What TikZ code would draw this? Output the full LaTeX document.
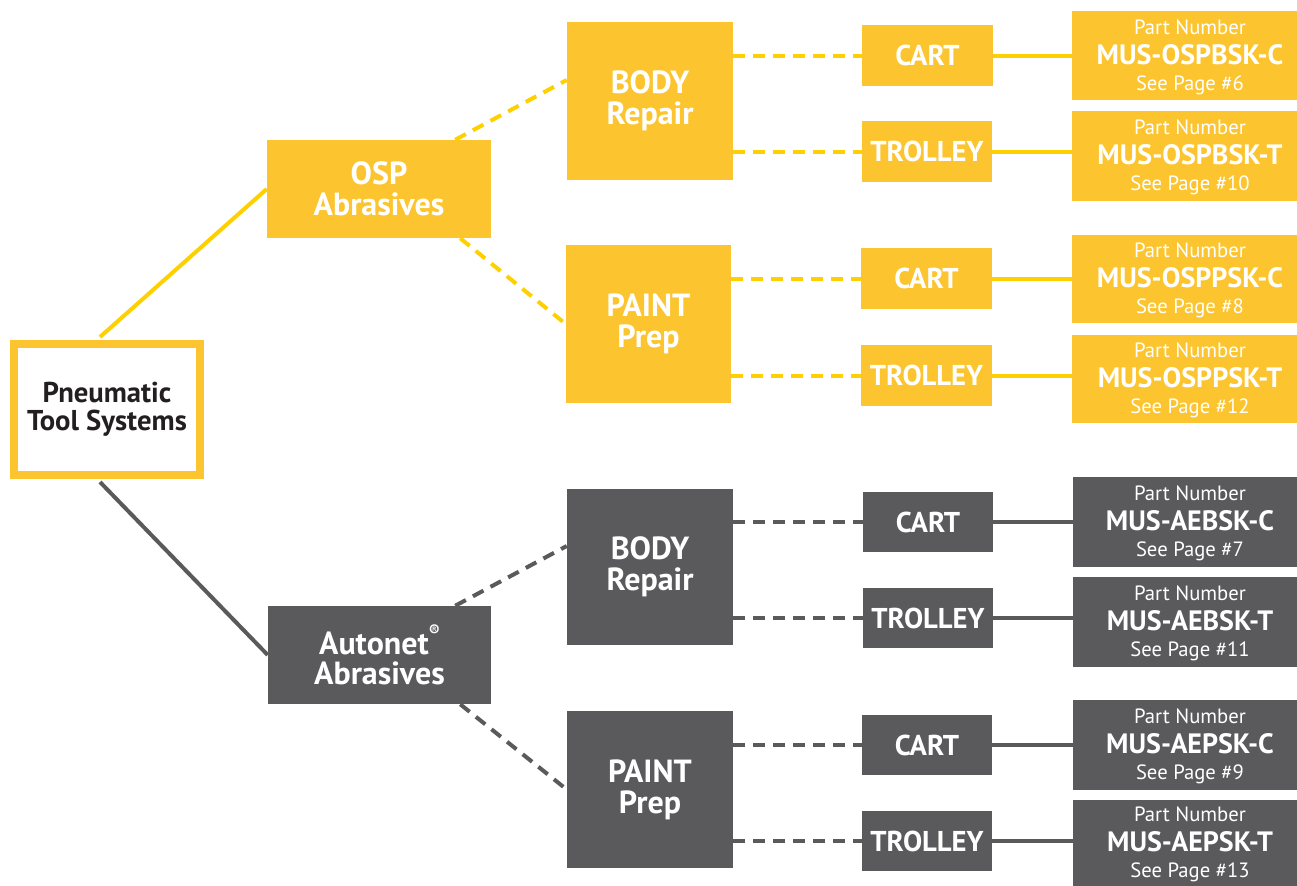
\documentclass[tikz,border=0pt]{standalone}
\usepackage{fontspec}
\setmainfont{PT Sans}
\usetikzlibrary{calc}
\definecolor{yfill}{HTML}{FCC52F}
\definecolor{yline}{HTML}{FFD000}
\definecolor{gfill}{HTML}{5A5A5C}
\definecolor{gline}{HTML}{5A5A5A}
\definecolor{dtext}{HTML}{231F20}
\tikzset{
  boxbase/.style={draw=none, inner sep=0pt, text=white, align=center},
  ybx/.style={boxbase, fill=yfill},
  gbx/.style={boxbase, fill=gfill},
  big/.style={font=\bfseries\fontsize{24}{23}\selectfont},
  mid/.style={font=\bfseries\fontsize{21.5}{22}\selectfont},
  pnsmall/.style={anchor=base, text=white, inner sep=0pt, font=\fontsize{15.5}{16}\selectfont},
  pncode/.style={anchor=base, text=white, inner sep=0pt, font=\bfseries\fontsize{21}{23}\selectfont},
  ysolid/.style={draw=yline, line width=3pt},
  gsolid/.style={draw=gline, line width=3pt},
  ydash/.style={draw=yline, line width=3pt, dash pattern=on 9pt off 6pt},
  gdash/.style={draw=gline, line width=3pt, dash pattern=on 9pt off 6pt},
}
\newcommand\bx[7]{\node[#6, minimum width={(#4-#2)*0.75pt}, minimum height={(#5-#3)*0.75pt}] (#1) at ({(#2+#4)/2},{(#3+#5)/2}) {#7};}
\newcommand\pbox[8]{% name x1 y1 x2 y2 style code page
  \bx{#1}{#2}{#3}{#4}{#5}{#6}{}
  \node[pnsmall] (#1a) at (1190,{(#3+#5)/2-21.5}) {Part Number};
  \node[pncode] (#1b) at (1190,{(#3+#5)/2+8.5}) {#7};
  \node[pnsmall] (#1c) at (1190,{(#3+#5)/2+34.5}) {See Page \##8};
}
\begin{document}
\begin{tikzpicture}[x=0.75pt,y=-0.75pt]
\useasboundingbox (0,0) rectangle (1297,886);
% root
\node[draw=yfill, line width=6pt, fill=white, minimum width={186*0.75pt}, minimum height={131*0.75pt}, inner sep=0pt, align=center, text=dtext, font=\bfseries\fontsize{21.5}{21}\selectfont] (root) at (107,409.5) {Pneumatic\\Tool Systems};
% level 1
\bx{osp}{267}{140}{491}{238}{ybx,big}{OSP\\Abrasives}
\bx{aut}{268}{606}{491}{704}{gbx,big}{Autonet{\raisebox{0.55em}{\fontsize{12}{12}\selectfont ®}}\\Abrasives}
% level 2
\bx{yb}{567}{22}{733}{180}{ybx,big}{BODY\\Repair}
\bx{yp}{566}{245}{731}{403}{ybx,big}{PAINT\\Prep}
\bx{gb}{567}{489}{733}{645}{gbx,big}{BODY\\Repair}
\bx{gp}{567}{711}{733}{868}{gbx,big}{PAINT\\Prep}
% level 3
\bx{yc1}{862}{25}{993}{86}{ybx,mid}{CART}
\bx{yt1}{862}{121}{992}{182}{ybx,mid}{TROLLEY}
\bx{yc2}{861}{248}{992}{309}{ybx,mid}{CART}
\bx{yt2}{861}{345}{992}{406}{ybx,mid}{TROLLEY}
\bx{gc1}{863}{492}{993}{552}{gbx,mid}{CART}
\bx{gt1}{863}{588}{993}{648}{gbx,mid}{TROLLEY}
\bx{gc2}{862}{715}{992}{775}{gbx,mid}{CART}
\bx{gt2}{862}{811}{992}{871}{gbx,mid}{TROLLEY}
% part boxes
\pbox{p1}{1072}{11}{1297}{100}{ybx}{MUS-OSPBSK-C}{6}
\pbox{p2}{1072}{111}{1297}{201}{ybx}{MUS-OSPBSK-T}{10}
\pbox{p3}{1072}{235}{1297}{323}{ybx}{MUS-OSPPSK-C}{8}
\pbox{p4}{1072}{335}{1297}{423}{ybx}{MUS-OSPPSK-T}{12}
\pbox{p5}{1073}{477}{1297}{567}{gbx}{MUS-AEBSK-C}{7}
\pbox{p6}{1073}{577}{1297}{667}{gbx}{MUS-AEBSK-T}{11}
\pbox{p7}{1073}{700}{1297}{790}{gbx}{MUS-AEPSK-C}{9}
\pbox{p8}{1073}{800}{1297}{886}{gbx}{MUS-AEPSK-T}{13}
% connectors level 0-1
\draw[ysolid] ($(root.north)+(-7,-3)$) -- (osp.west);
\draw[gsolid] ($(root.south)+(-7,3)$) -- (aut.west);
% level 1-2
\draw[ydash] ($(osp.north east)+(-36,0)$) -- ($(yb.west)+(0,-21)$);
\draw[ydash] ($(osp.south east)+(-31,0)$) -- (yp.west);
\draw[gdash] ($(aut.north east)+(-36,0)$) -- ($(gb.west)+(0,-21)$);
\draw[gdash] ($(aut.south east)+(-31,0)$) -- (gp.west);
% level 2-3
\foreach \a/\b/\s in {yb/yc1/ydash,yb/yt1/ydash,yp/yc2/ydash,yp/yt2/ydash,gb/gc1/gdash,gb/gt1/gdash,gp/gc2/gdash,gp/gt2/gdash}{
  \draw[\s] (\b.west -| \a.east) -- (\b.west);
}
% level 3-4
\foreach \a/\b/\s in {yc1/p1/ysolid,yt1/p2/ysolid,yc2/p3/ysolid,yt2/p4/ysolid,gc1/p5/gsolid,gt1/p6/gsolid,gc2/p7/gsolid,gt2/p8/gsolid}{
  \draw[\s] (\a.east) -- (\a.east -| \b.west);
}
\end{tikzpicture}
\end{document}
